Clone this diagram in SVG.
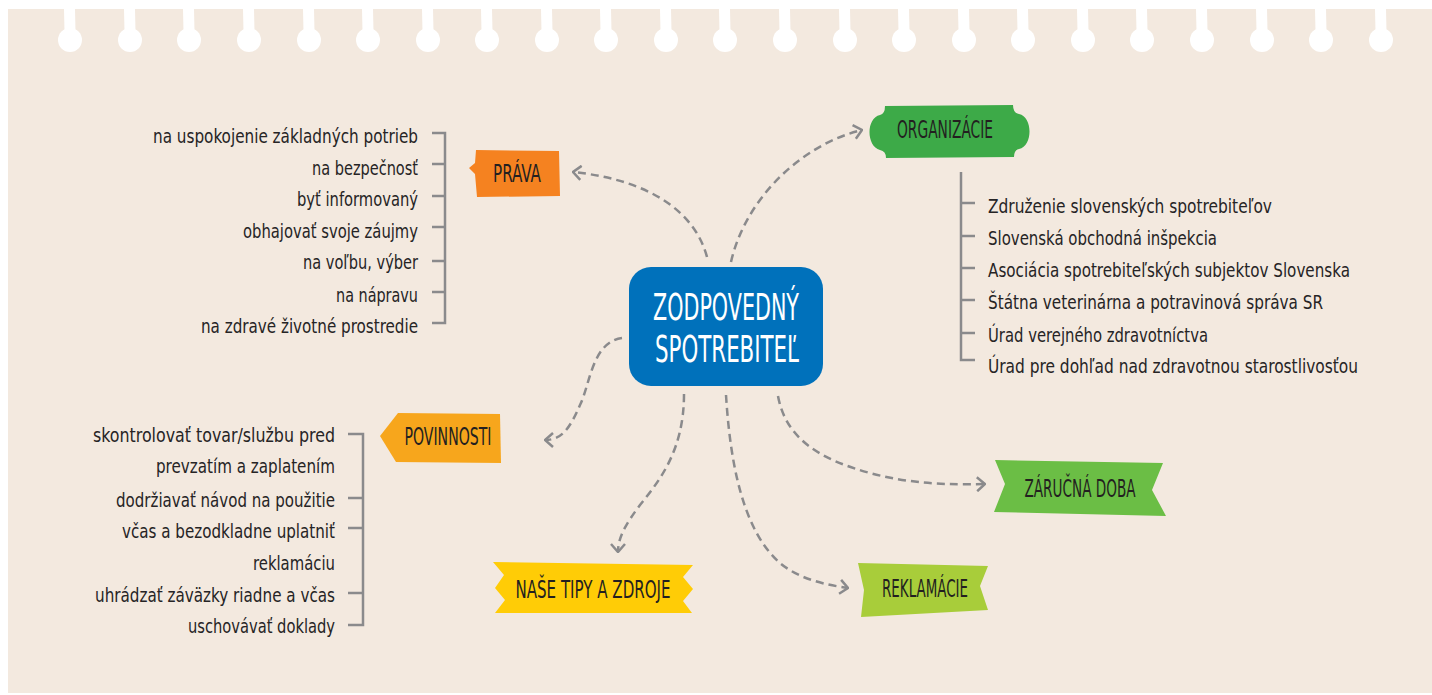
<svg xmlns="http://www.w3.org/2000/svg" width="1432" height="695" viewBox="0 0 1432 695">
<style>
.t{font-family:"DejaVu Sans Condensed","DejaVu Sans",sans-serif;font-size:20px;fill:#262425}
.r{text-anchor:end}
.lbl{font-family:"DejaVu Sans Condensed","DejaVu Sans",sans-serif;font-size:24px;fill:#231f20;text-anchor:middle}
.ctr{font-family:"DejaVu Sans Condensed","DejaVu Sans",sans-serif;font-size:37px;fill:#ffffff;text-anchor:middle}
.br{fill:none;stroke:#8a8a8c;stroke-width:2.5}
.con{fill:none;stroke:#8a8a8c;stroke-width:2.5;stroke-dasharray:8 5}
.hole{fill:#ffffff}
</style>
<defs>
<marker id="chev" viewBox="0 0 10 16" refX="9" refY="8" markerWidth="10" markerHeight="16" markerUnits="userSpaceOnUse" orient="auto">
<path d="M1,1 L9,8 L1,15" fill="none" stroke="#8a8a8c" stroke-width="2.5"/>
</marker>
</defs>
<rect x="0" y="0" width="1432" height="695" fill="#ffffff"/>
<rect x="8" y="9" width="1424" height="684" fill="#f3e9df"/>
<g id="holes">
<g class="hole">
<path d="M64 9 L75 9 L75.5 32 L64.5 32 Z"/><circle cx="70" cy="40" r="12"/>
<path d="M124 9 L135 9 L135.5 32 L124.5 32 Z"/><circle cx="130" cy="40" r="12"/>
<path d="M183 9 L194 9 L194.5 32 L183.5 32 Z"/><circle cx="189" cy="40" r="12"/>
<path d="M243 9 L254 9 L254.5 32 L243.5 32 Z"/><circle cx="249" cy="40" r="12"/>
<path d="M303 9 L314 9 L314.5 32 L303.5 32 Z"/><circle cx="309" cy="40" r="12"/>
<path d="M362 9 L373 9 L373.5 32 L362.5 32 Z"/><circle cx="368" cy="40" r="12"/>
<path d="M422 9 L433 9 L433.5 32 L422.5 32 Z"/><circle cx="428" cy="40" r="12"/>
<path d="M481 9 L492 9 L492.5 32 L481.5 32 Z"/><circle cx="487" cy="40" r="12"/>
<path d="M541 9 L552 9 L552.5 32 L541.5 32 Z"/><circle cx="547" cy="40" r="12"/>
<path d="M600 9 L611 9 L611.5 32 L600.5 32 Z"/><circle cx="606" cy="40" r="12"/>
<path d="M660 9 L671 9 L671.5 32 L660.5 32 Z"/><circle cx="666" cy="40" r="12"/>
<path d="M719 9 L730 9 L730.5 32 L719.5 32 Z"/><circle cx="725" cy="40" r="12"/>
<path d="M779 9 L790 9 L790.5 32 L779.5 32 Z"/><circle cx="785" cy="40" r="12"/>
<path d="M839 9 L850 9 L850.5 32 L839.5 32 Z"/><circle cx="845" cy="40" r="12"/>
<path d="M898 9 L909 9 L909.5 32 L898.5 32 Z"/><circle cx="904" cy="40" r="12"/>
<path d="M958 9 L969 9 L969.5 32 L958.5 32 Z"/><circle cx="964" cy="40" r="12"/>
<path d="M1017 9 L1028 9 L1028.5 32 L1017.5 32 Z"/><circle cx="1023" cy="40" r="12"/>
<path d="M1077 9 L1088 9 L1088.5 32 L1077.5 32 Z"/><circle cx="1083" cy="40" r="12"/>
<path d="M1136 9 L1147 9 L1147.5 32 L1136.5 32 Z"/><circle cx="1142" cy="40" r="12"/>
<path d="M1196 9 L1207 9 L1207.5 32 L1196.5 32 Z"/><circle cx="1202" cy="40" r="12"/>
<path d="M1256 9 L1267 9 L1267.5 32 L1256.5 32 Z"/><circle cx="1262" cy="40" r="12"/>
<path d="M1315 9 L1326 9 L1326.5 32 L1315.5 32 Z"/><circle cx="1321" cy="40" r="12"/>
<path d="M1375 9 L1386 9 L1386.5 32 L1375.5 32 Z"/><circle cx="1381" cy="40" r="12"/>
</g>
</g>
<g id="connectors">
<path class="con" d="M707 257 C695 212, 650 180, 573 172" marker-end="url(#chev)"/>
<path class="con" d="M731 262 C745 200, 800 145, 862 130" marker-end="url(#chev)"/>
<path class="con" d="M622 338 C592 342, 590 385, 580 405 C570 428, 562 440, 545 440" marker-end="url(#chev)"/>
<path class="con" d="M684 394 C684 450, 660 480, 640 505 C625 525, 618 538, 618 552" marker-end="url(#chev)"/>
<path class="con" d="M726 395 C730 460, 742 530, 780 563 C800 580, 828 585, 848 588" marker-end="url(#chev)"/>
<path class="con" d="M778 396 C786 440, 822 460, 870 473 C910 484, 950 485, 985 484" marker-end="url(#chev)"/>
</g>
<g id="center">
<rect x="629" y="267" width="194" height="119" rx="22" fill="#0071bb"/>
<text class="ctr" x="726" y="320" textLength="146" lengthAdjust="spacingAndGlyphs">ZODPOVEDNÝ</text>
<text class="ctr" x="727" y="362" textLength="144" lengthAdjust="spacingAndGlyphs">SPOTREBITEĽ</text>
</g>
<g id="prava">
<path d="M476 150 L559 151 L560 196 L477 197 L475 174 L469 168 L475 163 Z" fill="#f58220"/>
<text class="lbl" x="517" y="182" textLength="48" lengthAdjust="spacingAndGlyphs">PRÁVA</text>
</g>
<g id="prava-list">
<path class="br" d="M432 133 H445 V323 H432 M432 164 H445 M432 196 H445 M432 227 H445 M432 261 H445 M432 292 H445"/>
<text class="t r" x="418" y="143" textLength="265" lengthAdjust="spacingAndGlyphs">na uspokojenie základných potrieb</text>
<text class="t r" x="418" y="175" textLength="106" lengthAdjust="spacingAndGlyphs">na bezpečnosť</text>
<text class="t r" x="418" y="206" textLength="121" lengthAdjust="spacingAndGlyphs">byť informovaný</text>
<text class="t r" x="418" y="238" textLength="175" lengthAdjust="spacingAndGlyphs">obhajovať svoje záujmy</text>
<text class="t r" x="418" y="269" textLength="115" lengthAdjust="spacingAndGlyphs">na voľbu, výber</text>
<text class="t r" x="418" y="302" textLength="82" lengthAdjust="spacingAndGlyphs">na nápravu</text>
<text class="t r" x="418" y="333" textLength="217" lengthAdjust="spacingAndGlyphs">na zdravé životné prostredie</text>
</g>
<g id="organizacie">
<path d="M885 106 L1013 105 Q1013 113 1019 114 C1033 117, 1033 146, 1019 149 Q1014 150 1014 157 L886 158 Q886 151 880 150 C866 146, 866 118, 880 115 Q885 114 885 106 Z" fill="#3daa48"/>
<text class="lbl" x="945" y="138" textLength="96" lengthAdjust="spacingAndGlyphs">ORGANIZÁCIE</text>
</g>
<g id="organizacie-list">
<path class="br" d="M961 172 V360 H975 M961 203 H975 M961 236 H975 M961 268 H975 M961 300 H975 M961 333 H975"/>
<text class="t" x="988" y="213" textLength="284" lengthAdjust="spacingAndGlyphs">Združenie slovenských spotrebiteľov</text>
<text class="t" x="988" y="245" textLength="229" lengthAdjust="spacingAndGlyphs">Slovenská obchodná inšpekcia</text>
<text class="t" x="988" y="277" textLength="362" lengthAdjust="spacingAndGlyphs">Asociácia spotrebiteľských subjektov Slovenska</text>
<text class="t" x="988" y="309" textLength="335" lengthAdjust="spacingAndGlyphs">Štátna veterinárna a potravinová správa SR</text>
<text class="t" x="988" y="342" textLength="220" lengthAdjust="spacingAndGlyphs">Úrad verejného zdravotníctva</text>
<text class="t" x="988" y="373" textLength="370" lengthAdjust="spacingAndGlyphs">Úrad pre dohľad nad zdravotnou starostlivosťou</text>
</g>
<g id="povinnosti">
<path d="M398 413 L500 414 L501 463 L396 462 L380 436 Z" fill="#f7a61c"/>
<text class="lbl" x="448" y="445" textLength="87" lengthAdjust="spacingAndGlyphs">POVINNOSTI</text>
</g>
<g id="povinnosti-list">
<path class="br" d="M348 434 H363 V625 H348 M348 498 H363 M348 528 H363 M348 593 H363"/>
<text class="t r" x="335" y="442" textLength="242" lengthAdjust="spacingAndGlyphs">skontrolovať tovar/službu pred</text>
<text class="t r" x="335" y="473" textLength="179" lengthAdjust="spacingAndGlyphs">prevzatím a zaplatením</text>
<text class="t r" x="335" y="507" textLength="219" lengthAdjust="spacingAndGlyphs">dodržiavať návod na použitie</text>
<text class="t r" x="335" y="538" textLength="213" lengthAdjust="spacingAndGlyphs">včas a bezodkladne uplatniť</text>
<text class="t r" x="335" y="570" textLength="82" lengthAdjust="spacingAndGlyphs">reklamáciu</text>
<text class="t r" x="335" y="602" textLength="240" lengthAdjust="spacingAndGlyphs">uhrádzať záväzky riadne a včas</text>
<text class="t r" x="335" y="633" textLength="147" lengthAdjust="spacingAndGlyphs">uschovávať doklady</text>
</g>
<g id="tipy">
<path d="M493 562 L693 565 L683 577 L693 589 L683 601 L692 613 L495 613 L505 600 L495 588 L504 575 Z" fill="#ffcc06"/>
<text class="lbl" x="593" y="598" textLength="155" lengthAdjust="spacingAndGlyphs">NAŠE TIPY A ZDROJE</text>
</g>
<g id="reklamacie">
<path d="M858 563 L988 566 L980 586 L988 610 L861 617 L864 590 Z" fill="#a8cd3a"/>
<text class="lbl" x="925" y="597" textLength="86" lengthAdjust="spacingAndGlyphs">REKLAMÁCIE</text>
</g>
<g id="zarucna">
<path d="M995 460 L1163 463 L1152 490 L1166 516 L994 512 L1005 484 Z" fill="#6bbe45"/>
<text class="lbl" x="1080" y="497" textLength="111" lengthAdjust="spacingAndGlyphs">ZÁRUČNÁ DOBA</text>
</g>
</svg>
